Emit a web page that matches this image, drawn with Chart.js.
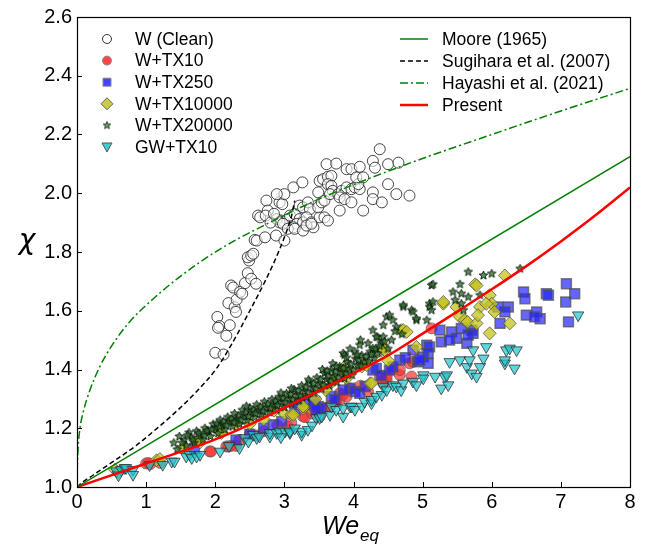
<!DOCTYPE html>
<html>
<head>
<meta charset="utf-8">
<script src="https://cdn.jsdelivr.net/npm/chart.js@4.4.1/dist/chart.umd.min.js"></script>
<style>
  html, body { margin: 0; padding: 0; background: #fff; }
  canvas { display: block; }
</style>
</head>
<body>
<canvas id="chi-chart" width="649" height="545"></canvas>
<script>
// axis ticks
const xTicks = [0, 1, 2, 3, 4, 5, 6, 7, 8];
const yTicks = [1.0, 1.2, 1.4, 1.6, 1.8, 2.0, 2.2, 2.4, 2.6];

// legend labels
const seriesLabels = ['W (Clean)', 'W+TX10', 'W+TX250', 'W+TX10000', 'W+TX20000', 'GW+TX10'];
const modelLabels = ['Moore (1965)', 'Sugihara et al. (2007)', 'Hayashi et al. (2021)', 'Present'];

const cleanPts = [
  [2.00,1.457],[2.12,1.451],[2.03,1.579],[2.06,1.548],[2.04,1.542],[2.21,1.551],[2.16,1.515],[2.19,1.626],
  [2.28,1.612],[2.30,1.596],[2.31,1.638],[2.23,1.686],[2.26,1.679],[2.36,1.664],[2.39,1.658],[2.43,1.694],
  [2.47,1.728],[2.52,1.709],[2.59,1.692],[2.49,1.771],[2.47,1.782],[2.52,1.788],[2.55,1.794],[2.57,1.841],
  [2.60,1.839],[2.72,1.850],[2.88,1.856],[3.00,1.839],[2.62,1.924],[2.65,1.918],[2.74,1.975],[2.76,1.941],
  [2.73,1.924],[2.93,1.969],[2.97,1.963],[3.00,1.997],[2.96,1.907],[3.00,1.901],[3.04,1.909],[3.13,2.020],
  [3.26,2.037],[3.08,1.924],[3.15,1.929],[3.22,1.912],[3.18,1.896],[3.13,1.884],[3.22,1.958],[3.27,1.952],
  [3.34,1.969],[3.37,1.946],[3.27,1.901],[3.32,1.918],[3.39,1.901],[3.42,1.884],[3.49,2.003],[3.51,1.918],
  [3.58,1.918],[3.63,1.907],[3.49,1.952],[3.54,1.969],[3.58,1.975],[3.61,2.099],[3.75,2.101],[3.51,2.042],
  [3.56,2.048],[3.63,2.056],[3.68,2.059],[3.63,2.031],[3.68,2.025],[3.70,2.008],[3.66,1.997],[3.80,1.941],
  [3.78,1.997],[3.83,2.008],[3.90,2.082],[3.97,2.082],[4.09,2.090],[3.90,2.020],[3.97,2.014],[4.02,2.020],
  [4.09,2.014],[4.07,2.031],[3.80,1.986],[3.87,1.980],[3.97,1.969],[4.14,1.941],[4.04,2.054],[4.14,2.054],
  [4.28,2.110],[4.31,2.087],[4.38,2.150],[4.50,2.099],[4.65,2.104],[4.28,2.003],[4.28,1.980],[4.41,1.969],
  [4.50,2.031],[4.62,1.997],[4.81,1.992],[2.89,1.912],[2.93,1.901],[2.98,1.896],[3.05,1.879],[3.15,1.879],
  [3.27,1.873],[3.32,1.890],[3.39,1.896],[2.89,1.997],[2.80,1.900],[2.85,1.930]
];
const tx10Pts = [
  [1.00,1.080],[1.06,1.078],[1.03,1.082],[1.20,1.082],[1.92,1.121],[1.94,1.121],[2.16,1.138],[2.19,1.138],
  [2.23,1.140],[2.30,1.140],[2.35,1.160],[2.50,1.180],[2.70,1.190],[2.90,1.210],[3.10,1.220],[3.27,1.240],
  [3.30,1.238],[3.40,1.250],[3.51,1.240],[3.60,1.270],[3.66,1.274],[3.75,1.291],[3.80,1.297],[3.80,1.319],
  [3.85,1.314],[3.90,1.308],[4.21,1.325],[4.38,1.376],[4.43,1.353],[4.43,1.364],[4.48,1.364],[4.48,1.376],
  [4.67,1.381],[4.67,1.398],[4.81,1.421],[4.84,1.376],[4.86,1.426],[5.13,1.540],[3.05,1.205],[2.60,1.175],
  [3.45,1.262],[3.95,1.335],[4.10,1.345],[4.55,1.400]
];
const tx250Pts = [
  [6.46,1.664],[6.48,1.641],[6.79,1.658],[6.82,1.653],[7.08,1.692],[7.20,1.658],[7.07,1.630],[7.11,1.562],
  [6.50,1.585],[6.65,1.596],[6.70,1.573],[6.62,1.579],[6.24,1.613],[6.19,1.596],[6.12,1.557],[6.09,1.613],
  [5.71,1.534],[5.73,1.523],[5.64,1.489],[5.66,1.517],[5.56,1.540],[5.42,1.528],[5.49,1.506],[5.25,1.534],
  [5.06,1.483],[5.10,1.477],[5.08,1.455],[5.01,1.443],[4.93,1.426],[5.08,1.421],[5.27,1.494],[5.39,1.500],
  [4.86,1.466],[4.96,1.432],[4.67,1.432],[4.57,1.409],[4.52,1.398],[3.95,1.336],[4.02,1.325],[4.09,1.319],
  [4.17,1.342],[4.28,1.398],[4.33,1.404],[3.44,1.291],[3.49,1.274],[3.54,1.268],[3.68,1.308],[3.73,1.297],
  [3.30,1.291],[3.15,1.263],[3.22,1.280],[3.42,1.280],[3.46,1.263],[2.84,1.212],[2.96,1.223],[1.70,1.130],
  [2.30,1.160],[2.50,1.180],[2.70,1.200],[4.40,1.380],[4.75,1.440],[3.85,1.330]
];
const tx10000Pts = [
  [0.55,1.059],[0.60,1.050],[1.15,1.091],[1.20,1.095],[1.53,1.133],[1.56,1.133],[1.75,1.155],[1.78,1.152],
  [2.07,1.189],[2.09,1.184],[2.50,1.215],[2.70,1.230],[3.00,1.250],[3.10,1.246],[3.13,1.246],[3.27,1.268],
  [3.27,1.274],[3.45,1.300],[3.60,1.330],[3.70,1.360],[3.85,1.398],[3.85,1.404],[3.90,1.370],[4.12,1.410],
  [4.19,1.415],[4.24,1.353],[4.26,1.353],[4.41,1.466],[4.41,1.472],[4.45,1.466],[4.50,1.430],[4.69,1.534],
  [4.72,1.534],[4.77,1.528],[4.91,1.477],[5.30,1.624],[5.30,1.630],[5.49,1.613],[5.54,1.579],[5.61,1.568],
  [5.65,1.562],[5.78,1.557],[5.76,1.690],[5.78,1.686],[5.97,1.653],[6.00,1.624],[6.04,1.596],[5.83,1.613],
  [5.80,1.585],[6.26,1.557],[5.97,1.523],[5.92,1.624],[6.19,1.720],[2.30,1.215],[2.85,1.260]
];
const tx20000Pts = [
  [1.40,1.150],[1.45,1.128],[1.48,1.172],[1.55,1.160],[1.58,1.140],[1.62,1.185],[1.66,1.168],[1.70,1.150],
  [1.73,1.190],[1.78,1.176],[1.82,1.160],[1.85,1.200],[1.90,1.188],[1.93,1.172],[1.97,1.214],[2.00,1.200],
  [2.04,1.182],[2.07,1.228],[2.10,1.212],[2.14,1.195],[2.18,1.238],[2.21,1.224],[2.25,1.205],[2.28,1.250],
  [2.32,1.233],[2.35,1.214],[2.39,1.262],[2.42,1.244],[2.46,1.226],[2.50,1.270],[2.53,1.254],[2.57,1.236],
  [2.60,1.280],[2.63,1.262],[2.67,1.246],[2.71,1.290],[2.74,1.271],[2.78,1.254],[2.82,1.298],[2.85,1.280],
  [2.89,1.262],[2.92,1.306],[2.96,1.289],[3.00,1.271],[3.03,1.318],[3.07,1.300],[3.10,1.282],[3.14,1.332],
  [3.18,1.312],[3.21,1.294],[3.25,1.345],[3.29,1.325],[3.32,1.306],[3.36,1.358],[3.40,1.338],[3.43,1.320],
  [3.47,1.372],[3.50,1.352],[3.54,1.333],[3.58,1.387],[3.61,1.366],[3.65,1.345],[3.68,1.398],[3.72,1.378],
  [3.76,1.357],[3.80,1.410],[3.83,1.390],[3.87,1.369],[3.85,1.455],[3.87,1.449],[3.91,1.424],[3.94,1.402],
  [3.98,1.381],[4.02,1.460],[4.03,1.436],[4.06,1.414],[4.09,1.483],[4.12,1.448],[4.16,1.426],[4.21,1.489],
  [4.24,1.460],[4.28,1.472],[4.30,1.438],[4.35,1.455],[4.43,1.551],[4.48,1.579],[4.52,1.585],[4.57,1.568],
  [4.62,1.545],[4.72,1.613],[4.72,1.619],[4.84,1.602],[4.86,1.596],[4.91,1.568],[4.91,1.573],[5.06,1.568],
  [5.10,1.624],[5.10,1.613],[5.13,1.602],[5.13,1.686],[5.15,1.630],[5.15,1.690],[5.44,1.664],[5.47,1.636],
  [5.54,1.690],[5.56,1.658],[5.56,1.624],[5.59,1.602],[5.66,1.647],[5.66,1.732],[5.83,1.653],[5.88,1.720],
  [6.00,1.726],[6.41,1.743],[4.40,1.490],[4.55,1.500],[4.70,1.520],[4.35,1.510],[4.60,1.530],[4.28,1.534],
  [4.33,1.511],[4.10,1.500],[4.43,1.511],[3.70,1.420],[3.95,1.470],[3.55,1.400],[2.45,1.275],[2.95,1.320],
  [1.52,1.150],[1.60,1.176],[1.68,1.160],[1.76,1.183],[1.84,1.176],[1.88,1.192],[1.95,1.195],[2.02,1.215],
  [2.06,1.204],[2.12,1.222],[2.16,1.210],[2.23,1.232],[2.27,1.220],[2.34,1.242],[2.37,1.228],[2.44,1.252],
  [2.48,1.240],[2.55,1.262],[2.58,1.250],[2.65,1.272],[2.69,1.258],[2.76,1.282],[2.80,1.268],[2.87,1.292],
  [2.90,1.278],[2.98,1.302],[3.01,1.288],[3.09,1.315],[3.12,1.298],[3.20,1.328],[3.23,1.310],[3.31,1.340],
  [3.34,1.322],[3.42,1.352],[3.45,1.334],[3.52,1.365],[3.56,1.346],[3.63,1.378],[3.67,1.360],[3.74,1.392],
  [3.78,1.372],[3.85,1.404],[3.89,1.386],[3.96,1.418],[4.00,1.398],[4.07,1.432],[4.11,1.412],[4.18,1.444],
  [4.22,1.428],[4.26,1.452],[4.32,1.470],[4.38,1.480],[4.45,1.495],[4.50,1.470],[4.05,1.450],[3.90,1.440],
  [3.75,1.410],[3.62,1.395],[3.35,1.365],[3.10,1.335]
];
const gwTx10Pts = [
  [0.57,1.054],[0.64,1.059],[0.69,1.065],[0.71,1.065],[0.81,1.059],[0.81,1.042],[0.60,1.040],[1.24,1.076],
  [1.37,1.087],[1.41,1.087],[1.58,1.104],[1.63,1.110],[1.66,1.099],[1.73,1.104],[1.78,1.110],[2.07,1.121],
  [2.35,1.133],[2.43,1.167],[2.48,1.155],[2.55,1.178],[2.60,1.167],[2.64,1.172],[2.79,1.172],[2.79,1.184],
  [2.89,1.184],[2.93,1.189],[3.01,1.189],[3.08,1.184],[3.08,1.189],[3.25,1.178],[3.25,1.189],[3.34,1.195],
  [3.46,1.235],[3.51,1.235],[3.54,1.240],[3.66,1.246],[3.68,1.274],[3.75,1.263],[3.85,1.240],[3.85,1.268],
  [3.95,1.274],[3.97,1.274],[4.02,1.263],[4.12,1.274],[4.16,1.291],[4.26,1.285],[4.26,1.297],[4.33,1.308],
  [4.41,1.314],[4.43,1.342],[4.48,1.330],[4.57,1.347],[4.62,1.342],[4.69,1.330],[4.72,1.353],[4.86,1.359],
  [4.91,1.347],[5.01,1.381],[5.01,1.370],[5.18,1.376],[5.27,1.336],[5.32,1.376],[5.35,1.381],[5.37,1.347],
  [5.39,1.426],[5.54,1.432],[5.64,1.409],[5.68,1.432],[5.71,1.387],[5.73,1.466],[5.78,1.376],[5.83,1.409],
  [5.88,1.438],[5.92,1.477],[6.19,1.421],[6.19,1.432],[6.21,1.466],[6.26,1.472],[6.33,1.404],[6.36,1.466],
  [7.25,1.585],[2.20,1.140],[2.95,1.170],[3.15,1.200],[3.40,1.210],[1.05,1.075]
];

// model curves [We_eq, chi]
const moorePts = [[0,1.0],[8,2.125]];
const sugiharaPts = [
  [0,1.0],[0.09,1.018],[0.23,1.040],[0.52,1.086],[0.86,1.142],[1.15,1.198],[1.44,1.258],[1.73,1.325],
  [2.02,1.404],[2.21,1.475],[2.50,1.600],[2.72,1.700],[2.86,1.770],[3.00,1.850],[3.10,1.920],[3.15,1.975]
];
const hayashiPts = [
  [0,1.0],[0.004,1.060],[0.015,1.130],[0.04,1.195],[0.09,1.255],[0.18,1.325],[0.33,1.410],[0.52,1.487],
  [0.76,1.562],[1.10,1.640],[1.50,1.718],[2.07,1.810],[2.70,1.890],[3.50,1.980],[4.67,2.090],[6.00,2.200],
  [7.00,2.280],[8.00,2.357]
];
const presentPts = [
  [0,1.0],[1,1.080],[2,1.162],[2.5,1.212],[3,1.270],[3.5,1.328],[4,1.387],[4.5,1.448],[5,1.522],
  [5.5,1.597],[6,1.673],[6.5,1.752],[7,1.836],[7.5,1.925],[8,2.020]
];

const toXY = pts => pts.map(([x, y]) => ({ x, y }));

// small filled star used as a marker
function makeStar(size, fill, stroke) {
  const c = document.createElement('canvas');
  c.width = c.height = size;
  const g = c.getContext('2d');
  const r = size / 2 - 1, ri = r * 0.45, cx = size / 2, cy = size / 2;
  g.beginPath();
  for (let i = 0; i < 10; i++) {
    const a = -Math.PI / 2 + i * Math.PI / 5;
    const rr = i % 2 ? ri : r;
    g.lineTo(cx + rr * Math.cos(a), cy + rr * Math.sin(a));
  }
  g.closePath();
  g.fillStyle = fill;
  g.fill();
  g.lineWidth = 0.9;
  g.strokeStyle = stroke;
  g.stroke();
  return c;
}
const starImg = makeStar(11, 'rgba(50,110,50,0.8)', 'rgba(0,15,0,0.9)');
const starLegend = makeStar(10, 'rgb(95,150,95)', 'rgb(40,60,40)');

const FONT = '"Liberation Sans", Arial, sans-serif';

function scatterSet(label, pts, style, order) {
  return Object.assign({
    label,
    data: toXY(pts),
    showLine: false,
    borderWidth: 1,
    order,
  }, style);
}
function lineSet(label, pts, style) {
  return Object.assign({
    label,
    data: toXY(pts),
    showLine: true,
    pointRadius: 0,
    fill: false,
    cubicInterpolationMode: 'monotone',
    order: 0,
  }, style);
}

const datasets = [
  scatterSet(seriesLabels[0], cleanPts, { pointStyle: 'circle', pointRadius: 5.5, backgroundColor: 'rgba(255,255,255,0.55)', borderColor: 'rgba(40,40,40,0.85)' }, 7),
  scatterSet(seriesLabels[1], tx10Pts, { pointStyle: 'circle', pointRadius: 5.5, backgroundColor: 'rgba(255,45,45,0.7)', borderColor: 'rgba(90,90,90,0.7)' }, 6),
  scatterSet(seriesLabels[2], tx250Pts, { pointStyle: 'rect', pointRadius: 7, borderWidth: 1.5, backgroundColor: 'rgba(35,35,255,0.7)', borderColor: 'rgba(80,80,80,0.7)' }, 5),
  scatterSet(seriesLabels[3], tx10000Pts, { pointStyle: 'rectRot', pointRadius: 6.5, backgroundColor: 'rgba(195,195,25,0.75)', borderColor: 'rgba(80,80,80,0.75)' }, 4),
  scatterSet(seriesLabels[4], tx20000Pts, { pointStyle: starImg, pointRadius: 5 }, 3),
  scatterSet(seriesLabels[5], gwTx10Pts, { pointStyle: 'triangle', pointRotation: 180, pointRadius: 6.5, backgroundColor: 'rgba(30,195,205,0.7)', borderColor: 'rgba(40,40,40,0.75)' }, 2),
  lineSet(modelLabels[0], moorePts, { borderColor: '#008000', borderWidth: 1.5 }),
  lineSet(modelLabels[1], sugiharaPts, { borderColor: '#000', borderWidth: 1.5, borderDash: [5, 3] }),
  lineSet(modelLabels[2], hayashiPts, { borderColor: '#008000', borderWidth: 1.5, borderDash: [8, 3, 2, 3] }),
  lineSet(modelLabels[3], presentPts, { borderColor: '#ff0000', borderWidth: 2.5 }),
];

// legend marker styles (same look as the data, a bit smaller)
const legendMarkers = [
  { shape: 'circle', fill: '#fff', edge: '#333' },
  { shape: 'circle', fill: '#ff4444', edge: '#888' },
  { shape: 'square', fill: '#4444ff', edge: '#888' },
  { shape: 'diamond', fill: '#cccc44', edge: '#666' },
  { shape: 'star' },
  { shape: 'tri', fill: '#44cccc', edge: '#555' },
];
const legendLines = [
  { color: '#008000', width: 1.5, dash: [] },
  { color: '#000', width: 1.5, dash: [5, 3] },
  { color: '#008000', width: 1.5, dash: [8, 3, 2, 3] },
  { color: '#ff0000', width: 2.5, dash: [] },
];

function drawMarker(ctx, m, x, y) {
  ctx.save();
  ctx.fillStyle = m.fill;
  ctx.strokeStyle = m.edge;
  ctx.lineWidth = 1;
  ctx.beginPath();
  if (m.shape === 'circle') {
    ctx.arc(x, y, 4.5, 0, Math.PI * 2);
  } else if (m.shape === 'square') {
    ctx.rect(x - 4, y - 4, 8, 8);
  } else if (m.shape === 'diamond') {
    ctx.moveTo(x, y - 6); ctx.lineTo(x + 6, y); ctx.lineTo(x, y + 6); ctx.lineTo(x - 6, y);
    ctx.closePath();
  } else if (m.shape === 'tri') {
    ctx.moveTo(x - 5, y - 4); ctx.lineTo(x + 5, y - 4); ctx.lineTo(x, y + 5);
    ctx.closePath();
  } else if (m.shape === 'star') {
    ctx.drawImage(starLegend, x - 5, y - 5);
    ctx.restore();
    return;
  }
  ctx.fill();
  ctx.stroke();
  ctx.restore();
}

const framePlugin = {
  id: 'frame',
  afterDraw(chart) {
    const { ctx, chartArea: a, scales: { x, y } } = chart;
    ctx.save();
    // box
    ctx.strokeStyle = '#000';
    ctx.lineWidth = 1.2;
    ctx.strokeRect(Math.round(a.left) + 0.5, Math.round(a.top) + 0.5, Math.round(a.right - a.left), Math.round(a.bottom - a.top));
    // inward ticks
    ctx.lineWidth = 1;
    ctx.beginPath();
    xTicks.forEach(v => {
      const px = Math.round(x.getPixelForValue(v)) + 0.5;
      ctx.moveTo(px, a.bottom); ctx.lineTo(px, a.bottom - 5);
    });
    yTicks.forEach(v => {
      const py = Math.round(y.getPixelForValue(v)) + 0.5;
      ctx.moveTo(a.left, py); ctx.lineTo(a.left + 5, py);
    });
    ctx.stroke();

    // left legend (markers)
    ctx.font = '17.5px ' + FONT;
    ctx.fillStyle = '#000';
    ctx.textBaseline = 'middle';
    ctx.textAlign = 'left';
    seriesLabels.forEach((lab, i) => {
      const cy = 39 + i * 21.6;
      drawMarker(ctx, legendMarkers[i], 107, cy);
      ctx.fillStyle = '#000';
      ctx.fillText(lab, 135, cy + 1);
    });
    // right legend (lines)
    modelLabels.forEach((lab, i) => {
      const cy = 39 + i * 22;
      const st = legendLines[i];
      ctx.save();
      ctx.strokeStyle = st.color;
      ctx.lineWidth = st.width;
      ctx.setLineDash(st.dash);
      ctx.beginPath();
      ctx.moveTo(400, cy); ctx.lineTo(428, cy);
      ctx.stroke();
      ctx.restore();
      ctx.fillText(lab, 442, cy + 1);
    });

    // axis titles
    ctx.textBaseline = 'alphabetic';
    ctx.font = 'italic 25px ' + FONT;
    ctx.fillText('We', 322, 534);
    ctx.font = 'italic 17px ' + FONT;
    ctx.fillText('eq', 360, 541);
    ctx.font = 'italic 28px "DejaVu Sans", sans-serif';
    ctx.textAlign = 'center';
    ctx.fillText('\u03c7', 27, 249);
    ctx.restore();
  }
};

new Chart(document.getElementById('chi-chart').getContext('2d'), {
  type: 'scatter',
  data: { datasets },
  options: {
    responsive: false,
    animation: false,
    layout: { padding: { top: 15, right: 19, left: 0, bottom: 0 } },
    scales: {
      x: {
        type: 'linear',
        min: 0,
        max: 8,
        afterBuildTicks: s => { s.ticks = xTicks.map(v => ({ value: v })); },
        afterFit: s => { s.height = 58; },
        ticks: { color: '#000', padding: 3, maxRotation: 0, font: { family: FONT, size: 20 }, callback: v => String(v) },
        grid: { display: false, drawTicks: false },
        border: { display: false },
      },
      y: {
        type: 'linear',
        min: 1.0,
        max: 2.6,
        afterBuildTicks: s => { s.ticks = yTicks.map(v => ({ value: v })); },
        afterFit: s => { s.width = 77; },
        ticks: { color: '#000', padding: 5, font: { family: FONT, size: 20 }, callback: v => Number(v).toFixed(1) },
        grid: { display: false, drawTicks: false },
        border: { display: false },
      },
    },
    plugins: {
      legend: { display: false },
      tooltip: { enabled: false },
    },
  },
  plugins: [framePlugin],
});
</script>
</body>
</html>
